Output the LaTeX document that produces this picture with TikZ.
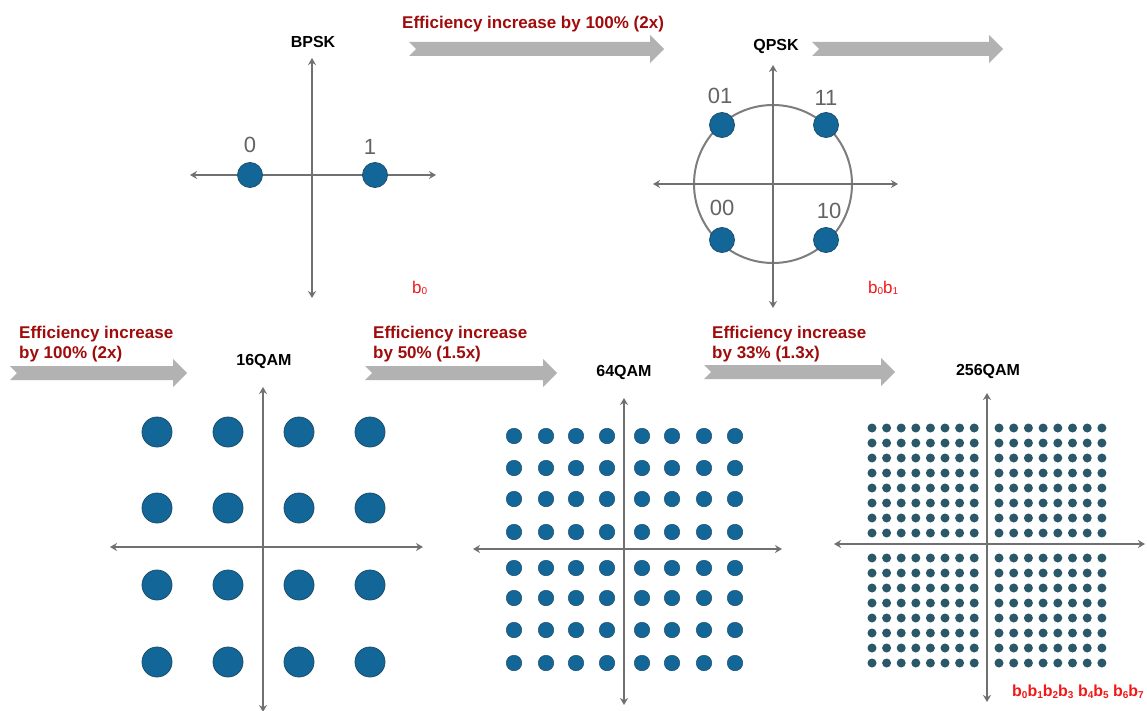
\documentclass[tikz,border=0pt]{standalone}
\usepackage{fontspec}
\setmainfont{Liberation Sans}
\usetikzlibrary{arrows.meta}
\definecolor{dotblue}{RGB}{18,103,152}
\definecolor{dotedge}{RGB}{30,78,108}
\definecolor{dotteal}{RGB}{42,88,104}
\definecolor{axisgray}{RGB}{112,112,112}
\definecolor{arrowgray}{RGB}{178,178,178}
\definecolor{effred}{RGB}{160,12,12}
\definecolor{bitred}{RGB}{242,24,24}
\definecolor{digitgray}{RGB}{100,100,100}
\definecolor{ringgray}{RGB}{125,125,125}
\newcommand\bigarrow[3]{\fill[arrowgray] (#1,#3-7) -- (#2-14,#3-7) -- (#2-14,#3-14) -- (#2,#3) -- (#2-14,#3+14) -- (#2-14,#3+7) -- (#1,#3+7) -- (#1+7,#3) -- cycle;}
\newcommand\sbit[1]{{\fontsize{10}{10}\selectfont\raisebox{-1.5pt}{#1}}}
\tikzset{
 axis/.style={draw=axisgray, line width=2pt, {Stealth[length=7pt,width=8pt]}-{Stealth[length=7pt,width=8pt]}},
 dot/.style={circle, fill=dotblue, draw=dotedge, line width=0.8pt, inner sep=0pt, minimum size=#1},
 tdot/.style={circle, fill=dotteal, inner sep=0pt, minimum size=#1},
 title/.style={font=\fontsize{16}{16}\selectfont\bfseries, text=black, inner sep=0pt},
 eff/.style={font=\fontsize{17}{20}\selectfont\bfseries, text=effred, align=left, inner sep=0pt},
 digit/.style={font=\fontsize{22}{22}\selectfont, text=digitgray, inner sep=0pt},
 bits/.style={font=\fontsize{17}{17}\selectfont, text=bitred, inner sep=0pt, anchor=west},
}
\begin{document}
\begin{tikzpicture}[x=1pt,y=-1pt]
\useasboundingbox[fill=white] (0,0) rectangle (1147,711);

% ---------- arrows ----------
\bigarrow{409}{664}{49}
\bigarrow{812}{1003}{49}
\bigarrow{10}{187}{373}
\bigarrow{365}{557}{373}
\bigarrow{704}{895}{372}

\node[eff, anchor=base west] (e1) at (402,29) {Efficiency increase by 100\% (2x)};
\node[eff, anchor=north west] (e2) at (19,326) {Efficiency increase\\by 100\% (2x)};
\node[eff, anchor=north west] (e3) at (373,326) {Efficiency increase\\by 50\% (1.5x)};
\node[eff, anchor=north west] (e4) at (712,326) {Efficiency increase\\by 33\% (1.3x)};

% ---------- BPSK ----------
\node[title] (tb) at (313,42) {BPSK};
\coordinate (b-l) at (190,175); \coordinate (b-r) at (436,175);
\coordinate (b-t) at (312,58); \coordinate (b-b) at (312,298);
\draw[axis] (b-l) -- (b-r);
\draw[axis] (b-t) -- (b-b);
\node[dot=25] (b0) at (250,175) {};
\node[dot=25] (b1) at (375,175) {};
\node[digit] (lb0) at (250,145) {0};
\node[digit] (lb1) at (370,147) {1};
\node[bits] (bb) at (412,288) {b\sbit{0}};

% ---------- QPSK ----------
\node[title] (tq) at (776,46) {QPSK};
\coordinate (q-c) at (773,184);
\coordinate (q-l) at (653,184); \coordinate (q-r) at (898,184);
\coordinate (q-t) at (773,65); \coordinate (q-b) at (773,308);
\draw[ringgray, line width=2pt] (q-c) circle[radius=79];
\draw[axis] (q-l) -- (q-r);
\draw[axis] (q-t) -- (q-b);
\node[dot=25] (q01) at (722,125) {};
\node[dot=25] (q11) at (826,125) {};
\node[dot=25] (q00) at (722,240) {};
\node[dot=25] (q10) at (826,240) {};
\node[digit] (l01) at (720,96) {01};
\node[digit] (l11) at (826,98) {11};
\node[digit] (l00) at (722,208) {00};
\node[digit] (l10) at (829,211) {10};
\node[bits] (bq) at (868,288) {b\sbit{0}b\sbit{1}};

% ---------- 16QAM ----------
\node[title] (t16) at (264,361) {16QAM};
\coordinate (s-l) at (110,547); \coordinate (s-r) at (423,547);
\coordinate (s-t) at (263,387); \coordinate (s-b) at (263,712);
\draw[axis] (s-l) -- (s-r);
\draw[axis] (s-t) -- (s-b);
\foreach \x [count=\i] in {157,228,299,370}
  \foreach \y [count=\j] in {432,508,585,662}
    \node[dot=30] (s\i-\j) at (\x,\y) {};

% ---------- 64QAM ----------
\node[title] (t64) at (624,372) {64QAM};
\coordinate (m-l) at (473,549); \coordinate (m-r) at (782,549);
\coordinate (m-t) at (624,398); \coordinate (m-b) at (624,705);
\draw[axis] (m-l) -- (m-r);
\draw[axis] (m-t) -- (m-b);
\foreach \x [count=\i] in {514,546,576,607,642,672,704,735}
  \foreach \y [count=\j] in {436,468,499,532,568,598,630,663}
    \node[dot=15.5, line width=0.5pt] (m\i-\j) at (\x,\y) {};

% ---------- 256QAM ----------
\node[title] (t256) at (988,371) {256QAM};
\coordinate (h-l) at (834,544); \coordinate (h-r) at (1145,544);
\coordinate (h-t) at (987,393); \coordinate (h-b) at (987,702);
\draw[axis] (h-l) -- (h-r);
\draw[axis] (h-t) -- (h-b);
\foreach \i in {0,...,7}
  \foreach \j in {0,...,7} {
    \node[tdot=9] (hl\i-\j) at ({872+\i*14.6},{428+\j*15}) {};
    \node[tdot=9] (hr\i-\j) at ({999+\i*14.7},{428+\j*15}) {};
    \node[tdot=9] (hd\i-\j) at ({872+\i*14.6},{558+\j*15}) {};
    \node[tdot=9] (he\i-\j) at ({999+\i*14.7},{558+\j*15}) {};
  }
\node[bits, font=\fontsize{16}{16}\selectfont\bfseries] (bh) at (1012,692)
  {b\sbit{0}b\sbit{1}b\sbit{2}b\sbit{3} b\sbit{4}b\sbit{5} b\sbit{6}b\sbit{7}};
\end{tikzpicture}
\end{document}
